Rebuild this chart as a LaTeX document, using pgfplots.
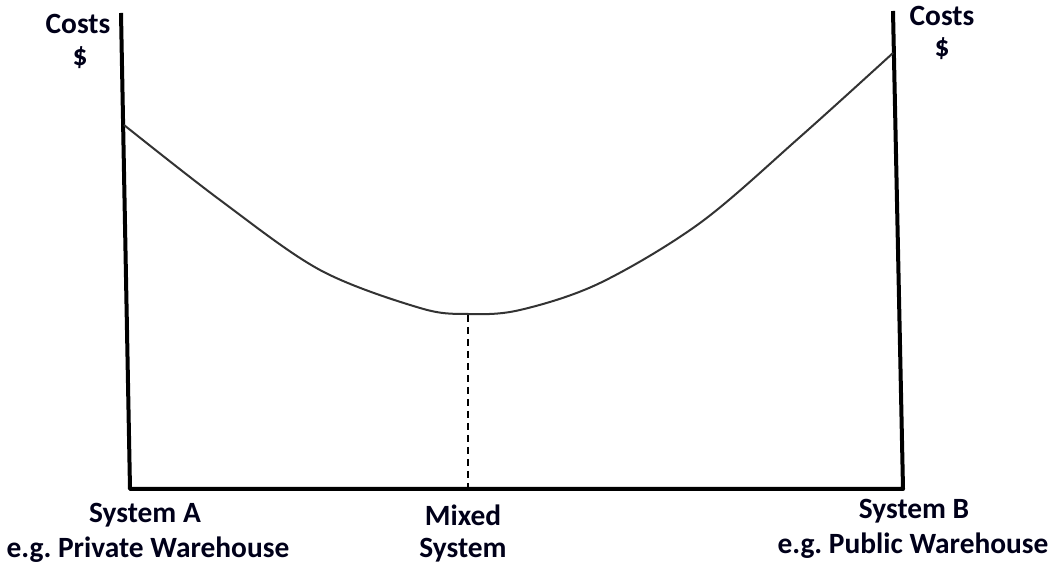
\documentclass[border=0pt]{standalone}
\usepackage{fontspec}
\setmainfont{Carlito}
\usepackage{pgfplots}
\pgfplotsset{compat=1.18}
\frenchspacing
\begin{document}
\begin{tikzpicture}
\begin{axis}[
  width=527pt, height=282.5pt, scale only axis,
  xmin=0, xmax=1054, ymin=0, ymax=565, y dir=reverse,
  hide axis, clip=false,
]
\addplot[draw=none] coordinates {(0,0) (1054,565)};
% axes
\addplot[black, line width=2pt, line join=round] coordinates {(121,13) (130,489) (903,489) (893,11)};
% cost curve
\addplot[black!80, line width=1pt, smooth, tension=0.55] coordinates {
(124,125) (220,200) (320,270) (420,308) (468,314)
(520,310) (600,283) (700,223) (800,137) (893,53)};
% dashed
\addplot[black, line width=1pt, dash pattern=on 3.5pt off 2.5pt] coordinates {(468,315) (468,489)};
\tikzset{lbl/.style={font=\bfseries\fontsize{14.7}{17}\selectfont, text=black!90!blue, inner sep=0pt, anchor=center}}
\node[lbl] at (axis cs:78,24) {Costs};
\node[lbl] at (axis cs:80,58) {\$};
\node[lbl] at (axis cs:942,16) {Costs};
\node[lbl] at (axis cs:942,49) {\$};
\node[lbl] at (axis cs:145,515) {System A};
\node[lbl] at (axis cs:148,550) {e.g. Private Warehouse};
\node[lbl] at (axis cs:463,515) {Mixed};
\node[lbl] at (axis cs:463,550) {System};
\node[lbl] at (axis cs:914,511) {System B};
\node[lbl] at (axis cs:913,546) {e.g. Public Warehouse};
\end{axis}
\end{tikzpicture}
\end{document}
